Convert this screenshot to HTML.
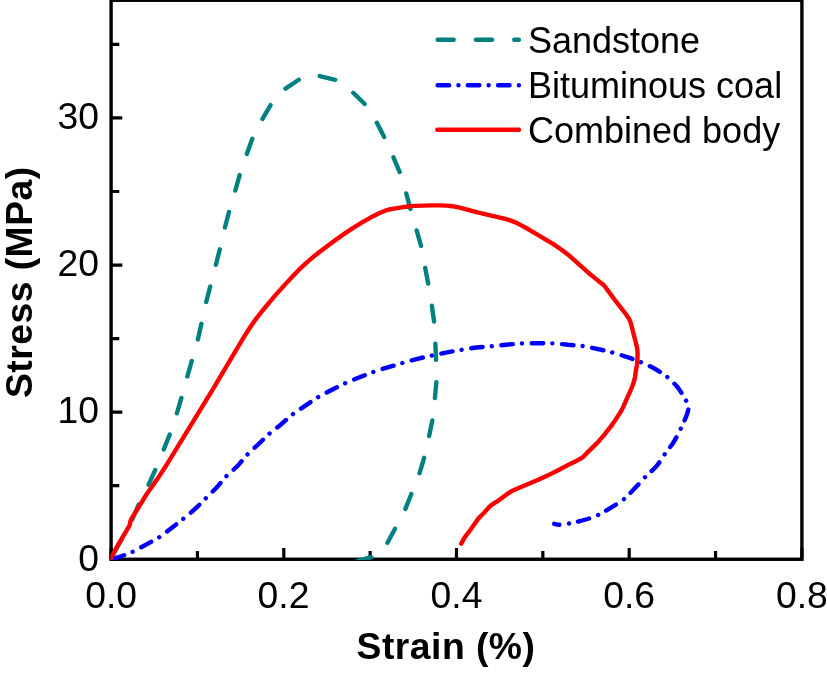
<!DOCTYPE html>
<html lang="en">
<head>
<meta charset="utf-8">
<title>Stress–strain curves</title>
<style>
html,body{margin:0;padding:0;background:#fff;}
body{width:827px;height:674px;overflow:hidden;}
svg{display:block;}
text{font-family:"Liberation Sans",Arial,Helvetica,sans-serif;fill:#000;}
.tick text{font-size:37.3px;}
.xt text{text-anchor:middle;}
.yt text{text-anchor:end;}
.lab{font-size:37.3px;font-weight:bold;text-anchor:middle;letter-spacing:0.47px;}
.leg text{font-size:36px;}
.ser{fill:none;stroke-width:4.4;stroke-linecap:round;stroke-linejoin:round;}
</style>
</head>
<body>
<svg width="827" height="674" viewBox="0 0 827 674">
<rect width="827" height="674" fill="#fff"/>
<g fill="none" stroke="#000">
<path stroke-width="3.2" d="M111.10 559.25V548.05M197.45 559.25V551.05M283.80 559.25V548.05M370.15 559.25V551.05M456.50 559.25V548.05M542.85 559.25V551.05M629.20 559.25V548.05M715.55 559.25V551.05M801.90 559.25V548.05M111.10 559.25H122.30M111.10 485.70H119.30M111.10 412.14H122.30M111.10 338.59H119.30M111.10 265.04H122.30M111.10 191.49H119.30M111.10 117.93H122.30M111.10 44.38H119.30"/>
<rect x="111.1" y="0.25" width="690.80" height="559.00" stroke-width="3.4"/>
</g>
<clipPath id="plot"><rect x="110.40" y="-2" width="692.20" height="561.90"/></clipPath>
<g class="ser" clip-path="url(#plot)">
<path id="coal" stroke="#0000ff" stroke-dasharray="11.5 9.12 0.01 9.74" stroke-dashoffset="-2.18" d="M111.0 559.0L117.4 557.5L124.9 555.0L128.4 553.7L131.3 552.5L136.7 549.8L145.6 544.8L154.6 540.0L159.0 537.4L163.5 534.2L171.2 528.2L180.0 521.4L185.6 517.0L191.1 512.4L195.6 508.3L199.3 504.8L212.3 491.9L215.9 488.3L218.3 485.6L223.6 479.3L226.0 476.6L228.6 474.2L234.8 468.5L237.4 466.1L239.8 463.4L245.0 457.2L247.4 454.5L250.6 451.4L258.1 444.5L265.3 437.5L268.6 434.3L272.1 431.4L281.0 424.4L289.7 416.7L294.1 413.2L315.0 399.1L318.9 396.7L323.7 394.0L337.2 387.1L345.5 383.1L354.5 379.3L369.2 373.5L374.5 371.6L379.8 369.8L402.4 363.0L415.5 359.3L423.3 357.4L445.8 352.6L456.8 350.6L468.3 348.7L474.3 347.8L479.3 347.2L492.7 346.2L505.9 344.7L514.0 344.0L521.2 343.5L527.8 343.3L543.2 343.2L550.2 343.3L556.8 343.6L568.0 344.8L577.6 345.5L581.6 345.9L585.1 346.4L589.7 347.3L604.6 350.5L610.5 352.0L614.9 353.2L619.9 354.7L633.1 359.1L637.9 360.9L642.6 362.9L647.7 365.1L651.8 367.1L654.4 368.5L657.1 370.1L666.4 376.2L674.2 383.5L676.3 385.7L678.2 388.0L680.5 391.3L685.5 399.5L689.2 406.5L687.7 411.8L686.8 414.9L685.2 418.9L683.1 423.7L679.8 430.8L677.0 436.3L674.5 440.7L672.1 444.5L665.1 453.7L658.9 462.9L657.5 464.9L655.9 466.8L653.1 469.7L647.9 474.4L645.7 476.5L643.0 479.4L636.9 486.1L630.0 493.4L627.2 496.3L625.0 498.3L622.2 500.5L618.9 502.8L603.3 512.2L600.7 513.7L598.0 515.1L595.8 516.1L592.9 517.2L587.6 519.0L580.2 521.0L574.0 522.5L568.1 523.7L562.7 524.5L559.4 524.8L557.3 524.6L554.2 523.8"/>
<path id="sandstone" stroke="#008080" stroke-dasharray="16 22.40" stroke-dashoffset="-7.12" d="M110.4 559.3L120.8 541L132.5 519L139.2 503.4L147.5 487L156 468.3L163.1 451.1L170.7 432.1L176.3 415.3L182.1 395.6L186.8 378.4L192.4 358.6L197.5 341.1L202 321.1L205.7 303.9L210.8 284.1L215.4 266.8L220.4 247L224.5 229.1L229.7 209.2L235 191.8L240.5 172L246 156.2L253 136.9L260.8 121.9L271.1 104.2L283.3 90L300.4 78.7L309.6 74.2L318 75.6L337.9 80.5L349.9 89.4L364.5 103.8L375.7 120.4L385 138.6L392.4 154.8L400.4 173.8L405.8 191.7L411.1 211.6L416.2 228.8L421.8 248.5L424.8 266L428.7 286.2L431.6 304L434.5 324.4L435.3 342.5L436.2 362.9L436.5 380.8L434.6 401.3L432.8 418.2L428.7 438.2L424.6 456.2L418.8 475.9L412.3 491.6L404.7 510.7L396.4 526.2L386.7 544.2L376.8 555.6L357.1 561.1"/>
<path id="combined" stroke="#ff0000" d="M110.2 559.3L117.3 546.1L128.6 527.2L129.3 525.8L129.9 524L130.5 520.8L131.7 518.5L146.1 495L159 476.4L164.7 467.8L168.7 461.4L211.9 390.9L244 336.8L251 326L256.8 317.8L262.2 311L274.8 295.9L285.6 283.9L294.6 274.2L301.4 267.4L308.6 260.9L313.9 256.4L317.9 253.2L332.1 242.6L343.4 234.4L353.6 227.6L363 221.8L371 217.3L379.6 213L385.2 210.7L389.1 209.5L394.1 208.6L406.3 206.7L411.3 206.1L414.9 205.9L431.4 205.4L439.5 205.4L446.7 205.6L452.2 206.2L459.7 207.6L478.5 212.6L504.2 218.6L508.6 219.9L512.9 221.4L516.2 222.8L520.3 224.9L526.2 228L531.9 231.3L553 243.9L561.5 249.7L569.2 255.6L588.9 273.2L599 281.4L602.7 284.2L603.8 285.3L605.1 286.7L614.2 299.1L626.5 315L628 317.1L629.3 319.3L630.3 321.6L631.2 324.5L636.6 345.8L637.3 349.3L637.6 353.9L637.4 360.1L637 364.3L635.9 370.5L635.1 376.6L634.6 379.2L633.8 382.1L632.6 385.5L630.7 390.2L626.7 399L623.1 407.3L621.7 410L619.5 413.6L614.5 421.3L610.3 427.1L604 435.1L598.3 441.7L594.7 445.4L588 451.8L583.9 456.2L582.2 457.6L580.3 458.8L577.2 460.5L569.1 464.4L557.2 470.8L547.5 475.6L538.3 479.7L516.3 489.1L511.9 491.1L507.9 493.5L499.5 499.8L492 504.6L489.2 507L484.3 512.5L479.6 517.2L478 519L470.7 529.5L465.4 536.3L464.1 538.4L461.2 543.6"/>
</g>
<g class="tick xt"><text x="111.2" y="607.8">0.0</text><text x="283.5" y="607.8">0.2</text><text x="456.5" y="607.8">0.4</text><text x="629.2" y="607.8">0.6</text><text x="801.9" y="607.8">0.8</text></g>
<g class="tick yt"><text x="98.9" y="570.5">0</text><text x="98.9" y="423.4">10</text><text x="98.9" y="276.3">20</text><text x="98.9" y="129.2">30</text></g>
<text class="lab" x="446" y="659">Strain (%)</text>
<text class="lab" transform="translate(32.3 282.2) rotate(-90)">Stress (MPa)</text>
<g class="leg">
<g class="ser">
<path stroke="#008080" stroke-dasharray="16 22.3" d="M437.65 39.8H518.9"/>
<path stroke="#0000ff" stroke-dasharray="11.5 9.3 0.01 9.4" d="M437.65 85.2H519"/>
<path stroke="#ff0000" d="M437.3 129.8H519"/>
</g>
<text x="528" y="53">Sandstone</text>
<text x="528" y="98">Bituminous coal</text>
<text x="528" y="142.5">Combined body</text>
</g>
</svg>
</body>
</html>
